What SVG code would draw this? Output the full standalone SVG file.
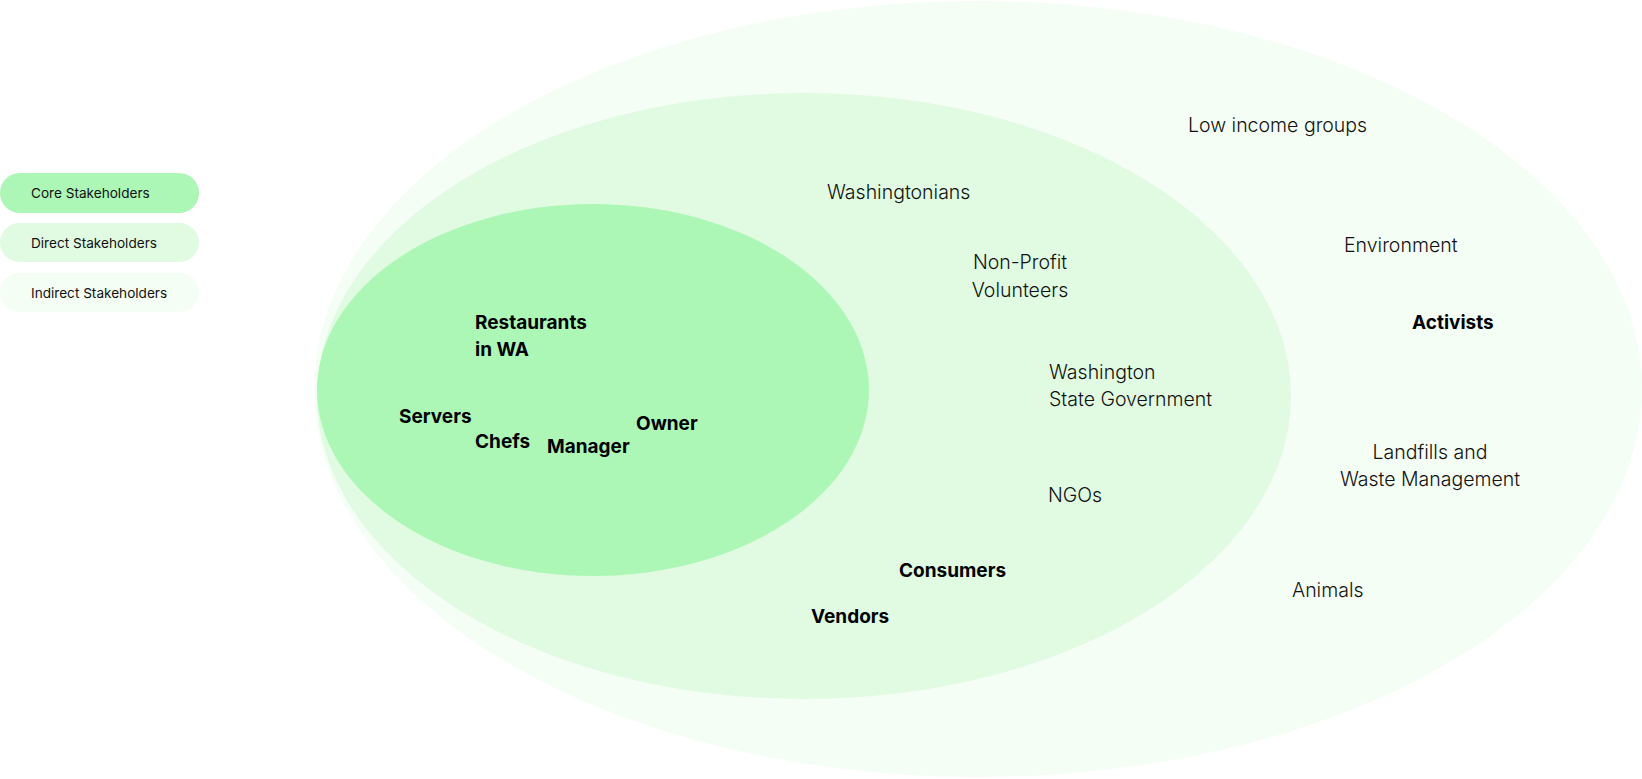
<svg xmlns="http://www.w3.org/2000/svg" width="1642" height="779" viewBox="0 0 1642 779">
<style>
.lg{font-family:Inter,"Liberation Sans",sans-serif;font-size:13.6px;fill:#111;}
.t{font-family:Inter,"Liberation Sans",sans-serif;font-size:19.5px;font-weight:300;fill:#111;}
.b{font-family:Inter,"Liberation Sans",sans-serif;font-size:19px;font-weight:700;fill:#000;}
.core{fill:#ADF7B6;}
.direct{fill:#E0FBE2;}
.indirect{fill:#F5FEF5;}
</style>
<rect width="1642" height="779" fill="#ffffff"/>
<g id="legend">
<g id="legend-core"><rect class="core" x="0" y="173" width="199" height="40" rx="20"/><text class="lg" x="31" y="198">Core Stakeholders</text></g>
<g id="legend-direct"><rect class="direct" x="0" y="223" width="199" height="39" rx="19.5"/><text class="lg" x="31" y="248">Direct Stakeholders</text></g>
<g id="legend-indirect"><rect class="indirect" x="0" y="273" width="199" height="39" rx="19.5"/><text class="lg" x="31" y="298">Indirect Stakeholders</text></g>
</g>
<g id="indirect"><ellipse class="indirect" cx="978" cy="389" rx="664" ry="388"/></g>
<g id="direct"><ellipse class="direct" cx="804" cy="396" rx="487" ry="303"/></g>
<g id="core"><ellipse class="core" cx="593" cy="390" rx="276" ry="186"/></g>
<g id="labels-core">
<text class="b" x="475" y="329">Restaurants</text>
<text class="b" x="475" y="356">in WA</text>
<text class="b" x="399" y="423">Servers</text>
<text class="b" x="475" y="448">Chefs</text>
<text class="b" x="547" y="453">Manager</text>
<text class="b" x="636" y="430">Owner</text>
</g>
<g id="labels-direct">
<text class="t" x="827" y="199">Washingtonians</text>
<text class="t" x="1020" y="269" text-anchor="middle">Non-Profit</text>
<text class="t" x="1020" y="297" text-anchor="middle">Volunteers</text>
<text class="t" x="1049" y="379">Washington</text>
<text class="t" x="1049" y="406">State Government</text>
<text class="t" x="1048" y="502">NGOs</text>
<text class="b" x="899" y="577">Consumers</text>
<text class="b" x="811" y="623">Vendors</text>
</g>
<g id="labels-indirect">
<text class="t" x="1188" y="132">Low income groups</text>
<text class="t" x="1344" y="252">Environment</text>
<text class="b" x="1412" y="329">Activists</text>
<text class="t" x="1430" y="459" text-anchor="middle">Landfills and</text>
<text class="t" x="1430" y="486" text-anchor="middle">Waste Management</text>
<text class="t" x="1292" y="597">Animals</text>
</g>
<g id="connectors"/>
</svg>
